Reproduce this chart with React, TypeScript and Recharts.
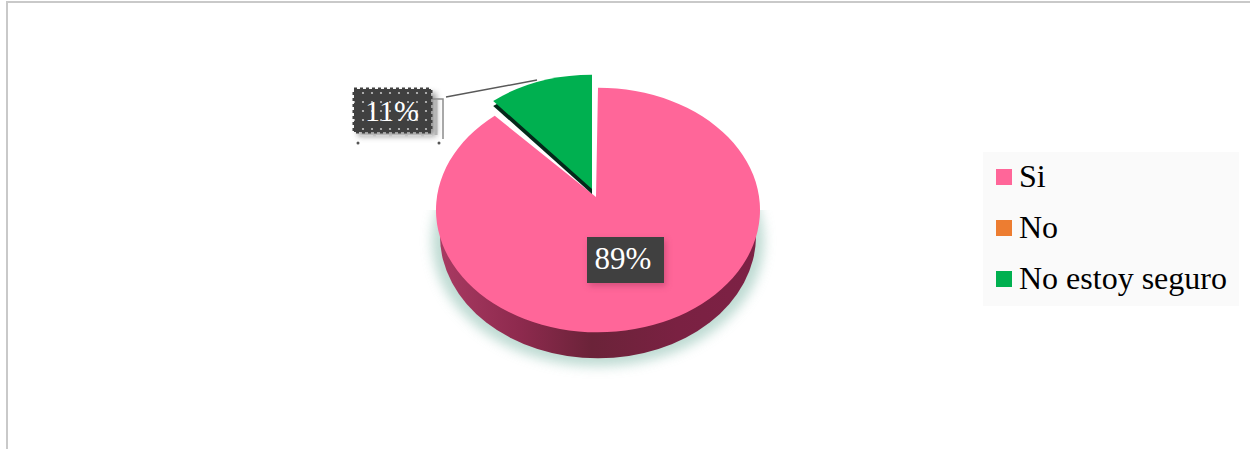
import { Legend, Pie, PieChart } from "recharts";

const categories = ["Si", "No", "No estoy seguro"];
const values = [89, 0, 11];
const colors = ["#ff6699", "#ed7d31", "#00b050"];

const data = categories.map((name, i) => ({ name, value: values[i], fill: colors[i] }));

const CX = 598;
const CY = 210;
const RX = 162;
const TILT = 0.755;
const DEPTH = 26;
const SERIF = "'Liberation Serif', 'Times New Roman', serif";
const RAD = Math.PI / 180;

function ellipsePoint(cx: number, cy: number, rx: number, ry: number, angle: number) {
  return [cx + rx * Math.cos(angle * RAD), cy - ry * Math.sin(angle * RAD)];
}

function wedge(cx: number, cy: number, rx: number, ry: number, start: number, end: number, apex = [cx, cy]) {
  const [x0, y0] = ellipsePoint(cx, cy, rx, ry, start);
  const [x1, y1] = ellipsePoint(cx, cy, rx, ry, end);
  const large = Math.abs(end - start) > 180 ? 1 : 0;
  return `M${apex[0]},${apex[1]} L${x0},${y0} A${rx},${ry} 0 ${large} 1 ${x1},${y1} Z`;
}

// Recharts hands us the angles, we only squash the circle into a tilted disc
function TiltedSector(props: any) {
  const { cx, cy, outerRadius, startAngle, endAngle, fill, payload } = props;
  if (startAngle === endAngle) return <g />;
  const ry = outerRadius * TILT;

  // exploded slice sits a bit up and left of the disc
  if ((payload?.name ?? props.name) === "No estoy seguro") {
    const ox = cx - 6;
    const oy = cy - 21;
    const rx = outerRadius - 7;
    const sliceRy = ry - 8;
    return (
      <g>
        <path d={wedge(ox, oy + 5, rx, sliceRy, startAngle, endAngle)} fill="#04291a" />
        <path d={wedge(ox, oy, rx, sliceRy, startAngle, endAngle)} fill={fill} />
      </g>
    );
  }

  return (
    <g>
      <g clipPath="url(#lowerHalf)">
        <ellipse cx={cx} cy={cy + DEPTH + 5} rx={outerRadius + 4} ry={ry + 3} fill="#a9cfc4" opacity={0.75} filter="url(#pieShadow)" />
        <ellipse cx={cx} cy={cy + DEPTH} rx={outerRadius - 4} ry={ry} fill="url(#pieWall)" />
      </g>
      <path d={wedge(cx, cy, outerRadius, ry, startAngle, endAngle, [cx - 2, cy - 13])} fill={fill} />
    </g>
  );
}

function PercentLabel(props: any) {
  const { percent, name, cx, cy } = props;
  if (!percent) return null;
  const text = `${Math.round(percent * 100)}%`;
  if (name === "No estoy seguro") {
    const x = cx - 244;
    const y = cy - 121;
    return (
      <g>
        <rect x={x + 4} y={y + 4} width={78} height={43} fill="#777777" opacity={0.8} filter="url(#labelShadow)" />
        <path d={`M${x + 77},${y + 10} H${x + 89} V${y + 50}`} fill="none" stroke="#8c8c8c" strokeWidth={1.5} />
        <path d={`M${x + 82},${y + 11} V${y + 46}`} fill="none" stroke="#b5b5b5" strokeWidth={3} />
        <path d={`M${x + 6},${y + 47} H${x + 78}`} fill="none" stroke="#d4d4d4" strokeWidth={2} strokeDasharray="13 3" />
        <circle cx={x + 4} cy={y + 54} r={1.5} fill="#555555" />
        <circle cx={x + 85} cy={y + 54} r={1.5} fill="#555555" />
        <rect x={x} y={y} width={77} height={43} fill="url(#dotFill)" stroke="#404040" strokeWidth={3} strokeDasharray="3 3" />
        <text x={x + 38} y={y + 32} textAnchor="middle" fontFamily={SERIF} fontSize={30} fill="#ffffff">
          {text}
        </text>
      </g>
    );
  }
  const x = cx - 11;
  const y = cy + 27;
  return (
    <g>
      <rect x={x + 2} y={y + 3} width={77} height={46} fill="#a83a60" opacity={0.5} filter="url(#labelShadow)" />
      <rect x={x} y={y} width={77} height={46} fill="#404040" />
      <text x={x + 36} y={y + 32} textAnchor="middle" fontFamily={SERIF} fontSize={31} fill="#ffffff">
        {text}
      </text>
    </g>
  );
}

function LeaderLine(props: any) {
  const { cx, cy, name, percent } = props;
  if (!percent || name !== "No estoy seguro") return <g />;
  return (
    <path
      d={`M${cx - 152},${cy - 113} L${cx - 61},${cy - 130}`}
      fill="none"
      stroke="#595959"
      strokeWidth={1.5}
    />
  );
}

function LegendBox({ payload }: any) {
  return (
    <div
      style={{
        width: 256,
        height: 154,
        background: "#fafafa",
        fontFamily: SERIF,
        fontSize: 32,
        color: "#000",
        position: "relative",
      }}
    >
      {(payload ?? []).map((entry: any, i: number) => (
        <div key={entry.value} style={{ position: "absolute", left: 13, top: 6 + i * 51, height: 37, lineHeight: "37px", whiteSpace: "nowrap" }}>
          <span style={{ position: "absolute", left: 0, top: 11, width: 16, height: 16, background: entry.color }} />
          <span style={{ position: "absolute", left: 23, top: 0 }}>{entry.value}</span>
        </div>
      ))}
    </div>
  );
}

export default function App() {
  return (
    <div style={{ position: "absolute", left: 0, top: 0, width: 1250, height: 449, background: "#fff", overflow: "hidden" }}>
      <div style={{ position: "absolute", left: 6, top: 1, width: 1244, height: 448, borderTop: "2px solid #c9c9c9", borderLeft: "2px solid #c9c9c9" }} />
      <PieChart width={1250} height={449} margin={{ top: 0, right: 0, bottom: 0, left: 0 }} style={{ position: "absolute", left: 0, top: 0 }}>
        <defs>
          <clipPath id="lowerHalf">
            <rect x={0} y={CY} width={1250} height={239} />
          </clipPath>
          <filter id="pieShadow" x="-20%" y="-20%" width="140%" height="140%">
            <feGaussianBlur stdDeviation="6" />
          </filter>
          <filter id="labelShadow" x="-20%" y="-20%" width="140%" height="140%">
            <feGaussianBlur stdDeviation="3" />
          </filter>
          <linearGradient id="pieWall" x1="0" y1="0" x2="1" y2="0">
            <stop offset="0%" stopColor="#a83a62" />
            <stop offset="25%" stopColor="#8e2a4e" />
            <stop offset="48%" stopColor="#6b2339" />
            <stop offset="75%" stopColor="#7a2142" />
            <stop offset="100%" stopColor="#7d2145" />
          </linearGradient>
          <pattern id="dotFill" width="9" height="9" patternUnits="userSpaceOnUse">
            <rect width="9" height="9" fill="#404040" />
            <circle cx="3" cy="3" r="1.1" fill="#c4c4c4" />
          </pattern>
        </defs>
        <Pie
          data={data}
          dataKey="value"
          nameKey="name"
          cx={CX}
          cy={CY}
          innerRadius={0}
          outerRadius={RX}
          startAngle={90}
          endAngle={-270}
          stroke="none"
          shape={TiltedSector}
          label={PercentLabel}
          labelLine={LeaderLine}
          isAnimationActive={false}
        />
        <Legend
          layout="vertical"
          content={LegendBox}
          itemSorter={null}
          wrapperStyle={{ position: "absolute", left: 983, top: 152, width: 256, height: 154 }}
        />
      </PieChart>
    </div>
  );
}
